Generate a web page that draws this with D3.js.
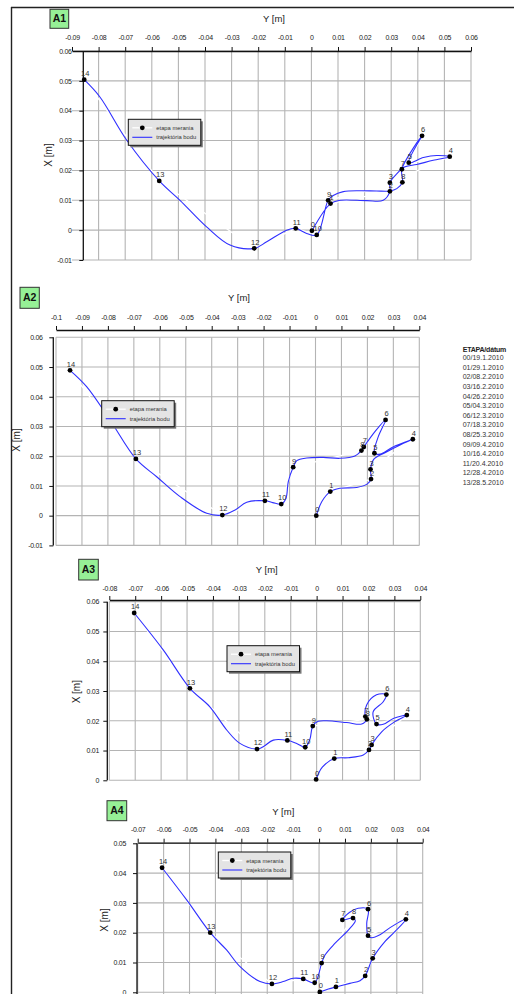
<!DOCTYPE html>
<html><head><meta charset="utf-8">
<script src="https://cdn.jsdelivr.net/npm/d3@7"></script>
<style>
html,body{margin:0;padding:0;background:#fff;}
svg{display:block;font-family:"Liberation Sans",Arial,sans-serif;}
</style></head>
<body><svg id="c" width="514" height="994"></svg>
<script>
// ---------- DATA ----------
const stageLabels = ["0","1","2","3","4","5","6","7","8","9","10","11","12","13","14"];
const etapaHeader = "ETAPA/dátum";
const etapaDates = ["00/19.1.2010","01/29.1.2010","02/08.2.2010","03/16.2.2010","04/26.2.2010","05/04.3.2010","06/12.3.2010","07/18.3.2010","08/25.3.2010","09/09.4.2010","10/16.4.2010","11/20.4.2010","12/28.4.2010","13/28.5.2010"];
const legendLabels = ["etapa merania","trajektória bodu"];
const panelNames = ["A1","A2","A3","A4"];
const axisTitleY = "Y [m]";
const axisTitleX = "X [m]";

// measurement stages [Y, X] (m)
const a1Points = [[0.0002,-0.0002],[0.0072,0.0089],[0.0295,0.0130],[0.0295,0.0159],[0.0520,0.0246],[0.0366,0.0226],[0.0416,0.0316],[0.0340,0.0204],[0.0342,0.0160],[0.0063,0.0100],[0.0020,-0.0016],[-0.0059,0.0006],[-0.0215,-0.0061],[-0.0572,0.0165],[-0.0854,0.0504]];
const a2Points = [[0.0003,0.0000],[0.0057,0.0081],[0.0214,0.0123],[0.0212,0.0156],[0.0375,0.0257],[0.0227,0.0210],[0.0270,0.0322],[0.0186,0.0231],[0.0177,0.0219],[-0.0086,0.0163],[-0.0132,0.0039],[-0.0195,0.0050],[-0.0359,0.0002],[-0.0692,0.0191],[-0.0946,0.0489]];
const a3Points = [[-0.0002,0.0003],[0.0068,0.0073],[0.0202,0.0102],[0.0212,0.0119],[0.0348,0.0219],[0.0231,0.0189],[0.0269,0.0288],[0.0188,0.0214],[0.0194,0.0205],[-0.0015,0.0182],[-0.0044,0.0111],[-0.0113,0.0134],[-0.0230,0.0105],[-0.0489,0.0309],[-0.0704,0.0562]];
const a4Points = [[0.0003,0.0001],[0.0065,0.0018],[0.0178,0.0055],[0.0207,0.0114],[0.0335,0.0245],[0.0189,0.0190],[0.0189,0.0279],[0.0090,0.0243],[0.0131,0.0249],[0.0010,0.0098],[-0.0017,0.0032],[-0.0061,0.0045],[-0.0182,0.0028],[-0.0420,0.0200],[-0.0606,0.0418]];

// point trajectory [Y, X] (m)
const a1Path = [[0.0002,-0.0002],[0.0072,0.0089],[0.0108,0.0100],[0.0208,0.0099],[0.0270,0.0100],[0.0295,0.0130],[0.0295,0.0159],[0.0318,0.0186],[0.0352,0.0212],[0.0396,0.0220],[0.0458,0.0234],[0.0520,0.0246],[0.0471,0.0250],[0.0421,0.0243],[0.0366,0.0226],[0.0416,0.0316],[0.0340,0.0204],[0.0342,0.0160],[0.0321,0.0139],[0.0295,0.0131],[0.0245,0.0131],[0.0183,0.0132],[0.0120,0.0129],[0.0082,0.0116],[0.0063,0.0100],[0.0020,-0.0016],[-0.0018,-0.0011],[-0.0059,0.0006],[-0.0093,0.0000],[-0.0168,-0.0039],[-0.0215,-0.0061],[-0.0306,-0.0050],[-0.0394,0.0011],[-0.0494,0.0100],[-0.0572,0.0165],[-0.0694,0.0301],[-0.0795,0.0446],[-0.0854,0.0504]];
const a2Path = [[0.0003,0.0000],[0.0024,0.0047],[0.0057,0.0081],[0.0094,0.0092],[0.0159,0.0095],[0.0200,0.0107],[0.0214,0.0123],[0.0212,0.0156],[0.0225,0.0190],[0.0268,0.0212],[0.0326,0.0238],[0.0375,0.0257],[0.0300,0.0232],[0.0249,0.0207],[0.0227,0.0210],[0.0242,0.0266],[0.0270,0.0322],[0.0229,0.0283],[0.0186,0.0231],[0.0177,0.0219],[0.0152,0.0201],[0.0094,0.0193],[0.0030,0.0196],[-0.0034,0.0194],[-0.0072,0.0185],[-0.0086,0.0163],[-0.0105,0.0114],[-0.0114,0.0058],[-0.0132,0.0039],[-0.0165,0.0044],[-0.0195,0.0050],[-0.0265,0.0045],[-0.0310,0.0019],[-0.0359,0.0002],[-0.0419,0.0008],[-0.0522,0.0064],[-0.0612,0.0131],[-0.0692,0.0191],[-0.0792,0.0322],[-0.0882,0.0434],[-0.0946,0.0489]];
const a3Path = [[-0.0002,0.0003],[0.0022,0.0044],[0.0068,0.0073],[0.0122,0.0076],[0.0180,0.0085],[0.0202,0.0102],[0.0212,0.0119],[0.0251,0.0163],[0.0302,0.0197],[0.0348,0.0219],[0.0296,0.0208],[0.0257,0.0188],[0.0231,0.0189],[0.0218,0.0230],[0.0257,0.0264],[0.0269,0.0288],[0.0231,0.0287],[0.0193,0.0253],[0.0188,0.0214],[0.0194,0.0205],[0.0174,0.0189],[0.0116,0.0194],[0.0039,0.0200],[0.0006,0.0198],[-0.0015,0.0182],[-0.0026,0.0138],[-0.0044,0.0111],[-0.0077,0.0124],[-0.0113,0.0134],[-0.0167,0.0135],[-0.0206,0.0113],[-0.0230,0.0105],[-0.0296,0.0124],[-0.0347,0.0169],[-0.0412,0.0247],[-0.0489,0.0309],[-0.0592,0.0438],[-0.0704,0.0562]];
const a4Path = [[0.0003,0.0001],[0.0036,0.0011],[0.0065,0.0018],[0.0119,0.0030],[0.0158,0.0039],[0.0178,0.0055],[0.0207,0.0114],[0.0254,0.0170],[0.0286,0.0198],[0.0335,0.0245],[0.0274,0.0217],[0.0235,0.0193],[0.0203,0.0183],[0.0189,0.0190],[0.0184,0.0232],[0.0189,0.0279],[0.0151,0.0282],[0.0117,0.0268],[0.0090,0.0243],[0.0131,0.0249],[0.0140,0.0240],[0.0113,0.0209],[0.0061,0.0164],[0.0023,0.0125],[0.0010,0.0098],[-0.0017,0.0032],[-0.0061,0.0045],[-0.0100,0.0047],[-0.0138,0.0036],[-0.0182,0.0028],[-0.0228,0.0036],[-0.0305,0.0086],[-0.0357,0.0142],[-0.0420,0.0200],[-0.0511,0.0310],[-0.0606,0.0418]];

// axis tick values
const a1YTicks = [-0.09,-0.08,-0.07,-0.06,-0.05,-0.04,-0.03,-0.02,-0.01,0,0.01,0.02,0.03,0.04,0.05,0.06];
const a1XTicks = [-0.01,0,0.01,0.02,0.03,0.04,0.05,0.06];
const a2YTicks = [-0.1,-0.09,-0.08,-0.07,-0.06,-0.05,-0.04,-0.03,-0.02,-0.01,0,0.01,0.02,0.03,0.04];
const a2XTicks = [-0.01,0,0.01,0.02,0.03,0.04,0.05,0.06];
const a3YTicks = [-0.08,-0.07,-0.06,-0.05,-0.04,-0.03,-0.02,-0.01,0,0.01,0.02,0.03,0.04];
const a3XTicks = [0,0.01,0.02,0.03,0.04,0.05,0.06];
const a4YTicks = [-0.07,-0.06,-0.05,-0.04,-0.03,-0.02,-0.01,0,0.01,0.02,0.03,0.04];
const a4XTicks = [-0.01,0,0.01,0.02,0.03,0.04,0.05];

// ---------- LAYOUT ----------
const panels = [
  {name:panelNames[0], pts:a1Points, path:a1Path, yt:a1YTicks, xt:a1XTicks,
   hr:[72,471], vr:[260,51], axisTopY:51, axisLeftX:83.3, gridFrom:-0.08, lblTop:11.5, lblLeft:11.6,
   box:[50,9.3,18.7,19], title:[274,22], xtitle:[48.3,155], legend:[128.3,119.3]},
  {name:panelNames[1], pts:a2Points, path:a2Path, yt:a2YTicks, xt:a2XTicks,
   hr:[56,419.3], vr:[545.4,337.3], axisTopY:330, axisLeftX:53.3, gridFrom:-0.1, lblTop:10.5, lblLeft:10.6,
   box:[20,287.3,19.3,21], title:[239,301], xtitle:[16.7,440], legend:[101.7,400.7]},
  {name:panelNames[2], pts:a3Points, path:a3Path, yt:a3YTicks, xt:a3XTicks,
   hr:[109.3,420.3], vr:[780.3,601.7], axisTopY:600, axisLeftX:107.3, gridFrom:-0.08, lblTop:9.5, lblLeft:8.3,
   box:[78.7,559.3,19.6,20.7], title:[266.7,572.5], xtitle:[76,691.7], legend:[227,645.7]},
  {name:panelNames[3], pts:a4Points, path:a4Path, yt:a4YTicks, xt:a4XTicks,
   hr:[137.7,422.7], vr:[1022.1,843.3], axisTopY:842.7, axisLeftX:137, gridFrom:-0.07, lblTop:10.5, lblLeft:11,
   box:[107,800.7,19.7,20], title:[283.3,814.5], xtitle:[104.3,920], legend:[218.3,852]}
];

const svg = d3.select("#c");
const fmt = v => { const s = String(+v.toFixed(3)); return s; };
const BLUE = "#2f2fff";

// outer frame
svg.append("line").attr("x1",11.5).attr("x2",11.5).attr("y1",7).attr("y2",994).attr("stroke","#222").attr("stroke-width",1.4);
svg.append("line").attr("x1",11).attr("x2",514).attr("y1",7.5).attr("y2",7.5).attr("stroke","#222").attr("stroke-width",1.4);

panels.forEach(p => {
  const yt = p.yt, xt = p.xt;
  const x = d3.scaleLinear().domain([yt[0], yt[yt.length-1]]).range(p.hr);
  const y = d3.scaleLinear().domain([xt[0], xt[xt.length-1]]).range(p.vr);
  const g = svg.append("g");
  const top = y.range()[1], bot = y.range()[0];
  const left = x.range()[0], right = x.range()[1];

  // grid
  g.selectAll(".vg").data(yt.filter(v => v >= p.gridFrom - 1e-9)).join("line")
    .attr("x1", d => x(d)).attr("x2", d => x(d)).attr("y1", top).attr("y2", bot)
    .attr("stroke","#b4b4b4").attr("stroke-width",1.1);
  g.selectAll(".hg").data(xt).join("line")
    .attr("x1", left).attr("x2", right).attr("y1", d => y(d)).attr("y2", d => y(d))
    .attr("stroke","#b4b4b4").attr("stroke-width",1.1);

  // top axis (Y)
  const ax = g.append("g").attr("transform",`translate(0,${p.axisTopY})`)
    .call(d3.axisTop(x).tickValues(yt).tickFormat(fmt).tickSize(4).tickSizeOuter(0).tickPadding(p.lblTop-4));
  // left axis (X)
  const ay = g.append("g").attr("transform",`translate(${p.axisLeftX},0)`)
    .call(d3.axisLeft(y).tickValues(xt).tickFormat(fmt).tickSize(4).tickSizeOuter(0).tickPadding(p.lblLeft-4));
  [ax, ay].forEach(a => {
    a.select(".domain").attr("stroke","#111").attr("stroke-width",1.3);
    a.selectAll(".tick line").attr("stroke","#111").attr("stroke-width",1);
    a.selectAll(".tick text").attr("font-size",7).attr("fill","#222").attr("letter-spacing",-0.3)
      .attr("font-family","'Liberation Sans',Arial,sans-serif");
  });
  ay.select(".domain").attr("d", `M0,${top}V${bot}`);

  // white connector of stage series
  const straight = d3.line().x(d => x(d[0])).y(d => y(d[1]));
  g.append("path").attr("d", straight(p.pts)).attr("fill","none").attr("stroke","#fff").attr("stroke-width",1.3);

  // trajectory
  const smooth = d3.line().x(d => x(d[0])).y(d => y(d[1])).curve(d3.curveCatmullRom.alpha(0.5));
  g.append("path").attr("d", smooth(p.path)).attr("fill","none").attr("stroke",BLUE).attr("stroke-width",1.1);

  // markers
  g.selectAll(".m").data(p.pts).join("circle")
    .attr("cx", d => x(d[0])).attr("cy", d => y(d[1])).attr("r",2.4).attr("fill","#000");

  // labels
  g.selectAll(".l").data(p.pts).join("text")
    .attr("x", d => x(d[0]) + 1).attr("y", d => y(d[1]) - 3.6)
    .attr("text-anchor","middle").attr("font-size",7.5).attr("fill","#333")
    .text((d,i) => stageLabels[i]);

  // titles
  g.append("text").attr("x",p.title[0]).attr("y",p.title[1]).attr("text-anchor","middle")
    .attr("font-size",9.5).attr("fill","#222").text(axisTitleY);
  g.append("text").attr("transform",`translate(${p.xtitle[0]+3.5},${p.xtitle[1]}) rotate(-90)`)
    .attr("text-anchor","middle").attr("font-size",10).attr("fill","#222").text(axisTitleX);

  // panel box
  const [bx,by,bw,bh] = p.box;
  g.append("rect").attr("x",bx).attr("y",by).attr("width",bw).attr("height",bh)
    .attr("fill","#96f096").attr("stroke","#333").attr("stroke-width",1);
  g.append("text").attr("x",bx+bw/2).attr("y",by+bh/2+3.6).attr("text-anchor","middle")
    .attr("font-size",10.5).attr("font-weight","bold").attr("fill","#111").text(p.name);

  // legend
  const [lx,ly] = p.legend, lw = 72.5, lh = 26;
  const lg = g.append("g");
  lg.append("rect").attr("x",lx+2).attr("y",ly+2).attr("width",lw).attr("height",lh).attr("fill","#777");
  lg.append("rect").attr("x",lx).attr("y",ly).attr("width",lw).attr("height",lh)
    .attr("fill","#e4e4e4").attr("stroke","#111").attr("stroke-width",1);
  lg.append("line").attr("x1",lx+4).attr("x2",lx+24).attr("y1",ly+8.5).attr("y2",ly+8.5).attr("stroke","#fff").attr("stroke-width",1.3);
  lg.append("circle").attr("cx",lx+14).attr("cy",ly+8.5).attr("r",2.4).attr("fill","#000");
  lg.append("line").attr("x1",lx+4).attr("x2",lx+24).attr("y1",ly+18).attr("y2",ly+18).attr("stroke",BLUE).attr("stroke-width",1.1);
  lg.selectAll(".lt").data(legendLabels).join("text")
    .attr("x",lx+28).attr("y",(d,i) => ly + 10.5 + i*9.5)
    .attr("font-size",5.8).attr("fill","#333").text(d => d);
});

// stage / date list
const dl = svg.append("g");
dl.append("text").attr("x",462.7).attr("y",351.6).attr("font-size",7).attr("font-weight","bold")
  .attr("fill","#222").attr("letter-spacing",-0.2).text(etapaHeader);
dl.selectAll(".d").data(etapaDates).join("text")
  .attr("x",462.7).attr("y",(d,i) => 360.3 + i*9.58).attr("font-size",7).attr("fill","#333")
  .text(d => d);
</script></body></html>
